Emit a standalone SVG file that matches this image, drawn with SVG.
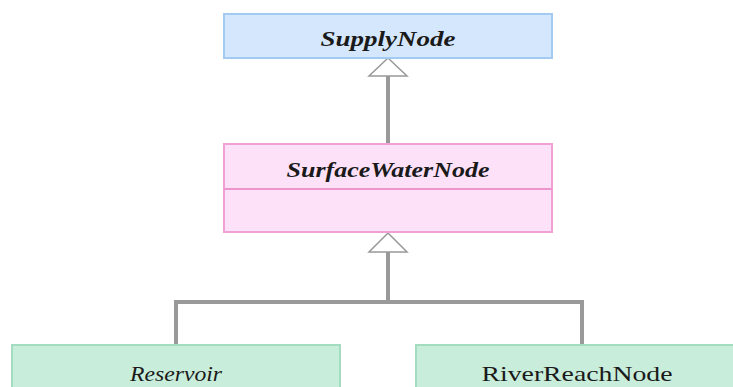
<svg xmlns="http://www.w3.org/2000/svg" width="733" height="387" viewBox="0 0 733 387">
<style>
text{font-family:'Liberation Serif',serif;font-size:22px;fill:#1a1a1a;text-anchor:middle}
.bi{font-weight:bold;font-style:italic}
.it{font-style:italic}
.conn{stroke:#999;stroke-width:4;fill:none}
.head{fill:#fff;stroke:#999;stroke-width:1.5}
</style>
<rect width="733" height="387" fill="#fff"/>
<g id="connectors">
<line class="conn" x1="388" y1="76" x2="388" y2="144"/>
<polygon class="head" points="388,58 407,76 369,76"/>
<line class="conn" x1="388" y1="252" x2="388" y2="302"/>
<polygon class="head" points="388,233 407,252 369,252"/>
<polyline class="conn" points="176,345 176,302 582,302 582,345"/>
</g>
<g id="SupplyNode">
<rect x="224" y="14" width="328" height="44" fill="#d5e7fc" stroke="#a3cbf2" stroke-width="2"/>
<text class="bi" x="388" y="46" textLength="135" lengthAdjust="spacingAndGlyphs">SupplyNode</text>
</g>
<g id="SurfaceWaterNode">
<rect x="224" y="144" width="328" height="88" fill="#fde1f8" stroke="#f0a3d3" stroke-width="2"/>
<line x1="224" y1="189" x2="552" y2="189" stroke="#ee96cc" stroke-width="2"/>
<text class="bi" x="388" y="177" textLength="203" lengthAdjust="spacingAndGlyphs">SurfaceWaterNode</text>
</g>
<g id="Reservoir">
<rect x="12" y="345" width="328" height="50" fill="#c9eddb" stroke="#a4dcbf" stroke-width="2"/>
<text class="it" x="176" y="381" textLength="92" lengthAdjust="spacingAndGlyphs">Reservoir</text>
</g>
<g id="RiverReachNode">
<rect x="416" y="345" width="330" height="50" fill="#c9eddb" stroke="#a4dcbf" stroke-width="2"/>
<text x="577" y="381" textLength="191" lengthAdjust="spacingAndGlyphs">RiverReachNode</text>
</g>
</svg>
